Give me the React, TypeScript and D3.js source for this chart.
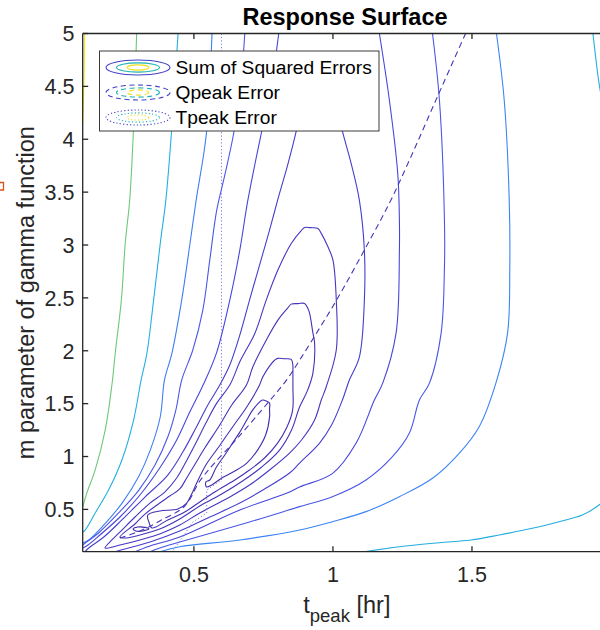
import React from "react";
import * as d3 from "d3";

type Pt = [number, number];

// ---------- axes / ticks ----------
const xDomain: [number, number] = [0.1, 2];
const yDomain: [number, number] = [0.1, 5];
const xTickValues = [0.5, 1, 1.5];
const xTickLabels = ["0.5", "1", "1.5"];
const yTickValues = [0.5, 1, 1.5, 2, 2.5, 3, 3.5, 4, 4.5, 5];
const yTickLabels = ["0.5", "1", "1.5", "2", "2.5", "3", "3.5", "4", "4.5", "5"];
const legendLabels = ["Sum of Squared Errors", "Qpeak Error", "Tpeak Error"];

// ---------- contour lines (t_peak [hr], m) ----------
const yellowEdge: Pt[] = [[0.107, 5.0], [0.105, 4.6], [0.102, 4.3], [0.1, 4.15]];

const greenLeft: Pt[] = [
  [0.294, 5.0], [0.282, 4.057], [0.269, 3.424], [0.253, 3.017], [0.239, 2.479],
  [0.217, 1.978], [0.205, 1.676], [0.181, 1.251], [0.145, 0.873], [0.115, 0.656], [0.1, 0.522],
];

const cyanLeft: Pt[] = [
  [0.443, 5.0], [0.419, 4.057], [0.399, 3.424], [0.379, 3.017], [0.355, 2.479],
  [0.331, 1.978], [0.31, 1.723], [0.283, 1.345], [0.241, 0.967], [0.193, 0.683],
  [0.145, 0.466], [0.109, 0.305], [0.1, 0.286],
];
const cyanTopRight: Pt[] = [[1.935, 5.0], [1.946, 4.75], [1.957, 4.53], [1.985, 4.1]];
const cyanBottomRight: Pt[] = [
  [1.113, 0.1], [1.239, 0.147], [1.383, 0.185], [1.496, 0.211], [1.598, 0.258],
  [1.717, 0.321], [1.813, 0.384], [1.897, 0.447], [1.957, 0.541], [1.996, 0.636],
];

const blueLeft: Pt[] = [
  [0.565, 5.0], [0.545, 4.057], [0.508, 3.424], [0.486, 3.017], [0.456, 2.479],
  [0.421, 1.978], [0.394, 1.723], [0.379, 1.376], [0.343, 1.06], [0.301, 0.808],
  [0.241, 0.557], [0.169, 0.333], [0.122, 0.211], [0.1, 0.183],
];
const blueRight: Pt[] = [
  [1.588, 5.0], [1.616, 4.369], [1.634, 3.424], [1.636, 2.791], [1.628, 2.167],
  [1.586, 1.694], [1.526, 1.282], [1.454, 1.03], [1.358, 0.794], [1.239, 0.62],
  [1.119, 0.479], [0.998, 0.384], [0.88, 0.305], [0.665, 0.211], [0.449, 0.147], [0.377, 0.1],
];

const p1Left: Pt[] = [
  [0.683, 5.0], [0.668, 4.511], [0.643, 4.057], [0.611, 3.66], [0.582, 3.329],
  [0.557, 2.857], [0.532, 2.385], [0.496, 2.007], [0.456, 1.723], [0.435, 1.439],
  [0.406, 1.184], [0.36, 0.92], [0.302, 0.683], [0.229, 0.466], [0.157, 0.277],
  [0.109, 0.182], [0.1, 0.163],
];
const p1Right: Pt[] = [
  [1.358, 5.0], [1.383, 4.369], [1.401, 3.235], [1.401, 2.791], [1.389, 2.167],
  [1.347, 1.694], [1.311, 1.534], [1.275, 1.222], [1.214, 0.998], [1.119, 0.778],
  [0.998, 0.62], [0.88, 0.526], [0.7, 0.381], [0.449, 0.192], [0.377, 0.135], [0.342, 0.1],
];

const p2Left: Pt[] = [
  [0.805, 5.0], [0.776, 4.464], [0.744, 4.076], [0.694, 3.424], [0.665, 2.952],
  [0.629, 2.479], [0.581, 1.978], [0.533, 1.676], [0.485, 1.42], [0.438, 1.156],
  [0.377, 0.891], [0.306, 0.636], [0.234, 0.428], [0.162, 0.258], [0.119, 0.163], [0.1, 0.135],
];
const p2Right: Pt[] = [
  [1.167, 5.0], [1.203, 4.369], [1.233, 3.679], [1.239, 3.235], [1.239, 2.952],
  [1.227, 2.167], [1.179, 1.694], [1.149, 1.534], [1.083, 1.125], [0.999, 0.841],
  [0.88, 0.712], [0.844, 0.664], [0.665, 0.494], [0.449, 0.239], [0.342, 0.154], [0.288, 0.1],
];

const p3Line: Pt[] = [
  [0.108, 0.1], [0.126, 0.144], [0.176, 0.239], [0.241, 0.4], [0.324, 0.617],
  [0.406, 0.825], [0.46, 1.042], [0.507, 1.269], [0.55, 1.487], [0.593, 1.676],
  [0.629, 1.865], [0.665, 2.148], [0.7, 2.479], [0.736, 2.81], [0.772, 3.14],
  [0.801, 3.424], [0.837, 3.755], [0.868, 4.076], [0.88, 4.227], [0.916, 4.369],
  [0.97, 4.417], [1.013, 4.322], [1.034, 4.076], [1.067, 3.755], [1.095, 3.424],
  [1.113, 2.952], [1.113, 2.479], [1.095, 1.94], [1.059, 1.723], [1.034, 1.534],
  [0.995, 1.298], [0.952, 1.127], [0.88, 0.938], [0.844, 0.844], [0.754, 0.693],
  [0.665, 0.56], [0.557, 0.428], [0.449, 0.296], [0.342, 0.192], [0.252, 0.126], [0.216, 0.1],
];

const t1Loop: Pt[] = [
  [0.898, 3.166], [0.92, 3.164], [0.946, 3.157], [0.958, 3.11], [0.982, 2.983], [1.0, 2.857], [1.012, 2.479],
  [1.012, 2.007], [0.976, 1.66], [0.958, 1.534], [0.934, 1.345], [0.887, 1.156],
  [0.844, 1.033], [0.772, 0.873], [0.7, 0.73], [0.629, 0.617], [0.521, 0.466],
  [0.449, 0.352], [0.377, 0.267], [0.306, 0.211], [0.234, 0.163], [0.18, 0.135],
  [0.205, 0.211], [0.241, 0.305], [0.288, 0.428], [0.342, 0.56], [0.395, 0.664],
  [0.438, 0.797], [0.471, 0.948], [0.507, 1.127], [0.543, 1.316], [0.582, 1.505],
  [0.629, 1.676], [0.668, 1.912], [0.719, 2.164], [0.76, 2.479], [0.802, 2.763], [0.85, 3.015],
  [0.886, 3.137],
];

const t2Loop: Pt[] = [
  [0.85, 2.441], [0.875, 2.446], [0.898, 2.448], [0.91, 2.4], [0.916, 2.356], [0.928, 2.167], [0.934, 2.073],
  [0.928, 1.789], [0.909, 1.628], [0.88, 1.468], [0.851, 1.251], [0.808, 1.061],
  [0.744, 0.901], [0.675, 0.768], [0.6, 0.645], [0.521, 0.532], [0.449, 0.409],
  [0.377, 0.314], [0.306, 0.258], [0.252, 0.229], [0.234, 0.239], [0.288, 0.362],
  [0.324, 0.456], [0.377, 0.56], [0.413, 0.626], [0.449, 0.693], [0.474, 0.797],
  [0.5, 0.91], [0.539, 1.08], [0.593, 1.298], [0.636, 1.487], [0.689, 1.676],
  [0.712, 1.849], [0.76, 2.1], [0.802, 2.29], [0.837, 2.403],
];

const t3Loop: Pt[] = [
  [0.334, 0.447], [0.377, 0.485], [0.442, 0.504], [0.474, 0.56], [0.492, 0.645],
  [0.51, 0.749], [0.543, 0.92], [0.589, 1.09], [0.639, 1.279], [0.69, 1.468],
  [0.736, 1.676], [0.747, 1.75], [0.772, 1.855], [0.79, 1.91], [0.801, 1.928], [0.825, 1.925],
  [0.85, 1.918], [0.856, 1.86], [0.856, 1.817], [0.856, 1.66], [0.855, 1.439], [0.833, 1.269], [0.801, 1.127],
  [0.754, 0.986], [0.7, 0.873], [0.647, 0.778], [0.575, 0.664], [0.521, 0.57],
  [0.467, 0.475], [0.406, 0.4], [0.349, 0.324], [0.338, 0.381],
];

const innerLoop: Pt[] = [
  [0.545, 0.712], [0.543, 0.76], [0.557, 0.778], [0.581, 0.901], [0.611, 1.014], [0.639, 1.127],
  [0.665, 1.231], [0.69, 1.345], [0.711, 1.439], [0.747, 1.534], [0.76, 1.525], [0.772, 1.505],
  [0.772, 1.45], [0.772, 1.373], [0.758, 1.203], [0.729, 1.061], [0.69, 0.938], [0.647, 0.863],
  [0.6, 0.797], [0.564, 0.73],
];

const lensLoop: Pt[] = [
  [0.281, 0.314], [0.298, 0.333], [0.324, 0.33], [0.338, 0.316], [0.316, 0.296], [0.291, 0.296],
];

const qpeakZero: Pt[] = [
  [0.234, 0.229], [0.306, 0.296], [0.377, 0.39], [0.467, 0.532], [0.521, 0.768],
  [0.568, 0.92], [0.657, 1.175], [0.765, 1.505], [0.833, 1.723], [0.887, 1.94],
  [0.952, 2.214], [1.013, 2.479], [1.113, 2.952], [1.203, 3.396], [1.275, 3.802],
  [1.375, 4.398], [1.477, 5.0],
];

const tpeakZero: Pt[] = [
  [0.599, 5.0], [0.599, 0.778], [0.546, 0.683], [0.546, 0.466], [0.496, 0.381],
  [0.46, 0.239], [0.421, 0.1],
];

// ---------- styling ----------
const openLines = [
  { pts: yellowEdge, color: "#f2e81c" },
  { pts: greenLeft, color: "#6bc97a" },
  { pts: cyanLeft, color: "#22b0e2" },
  { pts: cyanTopRight, color: "#22b0e2" },
  { pts: cyanBottomRight, color: "#22ade0" },
  { pts: blueLeft, color: "#3c7ff4" },
  { pts: blueRight, color: "#3c84f3" },
  { pts: p1Left, color: "#4a56e8" },
  { pts: p1Right, color: "#4a56e8" },
  { pts: p2Left, color: "#4746dc" },
  { pts: p2Right, color: "#4746dc" },
  { pts: p3Line, color: "#463ecc" },
];
const closedLines = [
  { pts: t1Loop, color: "#4537c2" },
  { pts: t2Loop, color: "#4433ba" },
  { pts: t3Loop, color: "#4230b4" },
  { pts: innerLoop, color: "#412cae" },
  { pts: lensLoop, color: "#3e27a8" },
];

const M = { left: 82.7, right: 611, top: 33.5, bottom: 551.7 };
const FONT = "'Liberation Sans', Arial, Helvetica, sans-serif";
const AX = "#262626";

export default function App() {
  const x = d3.scaleLinear().domain(xDomain).range([M.left, M.right]);
  const y = d3.scaleLinear().domain(yDomain).range([M.bottom, M.top]);
  const smooth = d3.line<Pt>().x((d) => x(d[0])).y((d) => y(d[1])).curve(d3.curveCatmullRom.alpha(0.5));
  const smoothClosed = d3.line<Pt>().x((d) => x(d[0])).y((d) => y(d[1])).curve(d3.curveCatmullRomClosed.alpha(0.5));
  const straight = d3.line<Pt>().x((d) => x(d[0])).y((d) => y(d[1]));

  const cx = (M.left + M.right) / 2;
  const cy = (M.top + M.bottom) / 2;
  const tick = 5.5;

  const legendRows = legendLabels.map((label, i) => ({ label, i, yc: 67.5 + i * 25 }));
  const dashFor = (i: number) => (i === 0 ? undefined : i === 1 ? "5,3.5" : "1.2,2.2");
  const iconColors = ["#4141c4", "#20b2b2", "#f0e020"];
  const iconR: [number, number][] = [[32, 7.5], [21.5, 4.6], [10.8, 2.6]];

  return (
    <svg width={600} height={630} style={{ position: "absolute", left: 0, top: 0, background: "#fff" }} fontFamily={FONT}>
      <defs>
        <clipPath id="plotClip">
          <rect x={M.left} y={M.top} width={M.right - M.left} height={M.bottom - M.top} />
        </clipPath>
      </defs>
      <rect x={0} y={0} width={600} height={630} fill="#fff" />

      <g clipPath="url(#plotClip)" fill="none">
        {openLines.map((l, k) => (
          <path key={"o" + k} d={smooth(l.pts) || ""} stroke={l.color} strokeWidth={1.1} />
        ))}
        {closedLines.map((l, k) => (
          <path key={"c" + k} d={smoothClosed(l.pts) || ""} stroke={l.color} strokeWidth={1.1} />
        ))}
        <path d={smooth(qpeakZero) || ""} stroke="#4336b8" strokeWidth={1.1} strokeDasharray="6,4" />
        <path d={straight(tpeakZero) || ""} stroke="#7d74dc" strokeWidth={1} strokeDasharray="1.2,2.2" />
      </g>

      {/* axes */}
      <g stroke={AX} strokeWidth={1.3} fill="none">
        <line x1={M.left} y1={M.top} x2={M.left} y2={M.bottom} />
        <line x1={M.left} y1={M.bottom} x2={M.right} y2={M.bottom} />
        <line x1={M.left} y1={M.top} x2={M.right} y2={M.top} />
        <line x1={M.right} y1={M.top} x2={M.right} y2={M.bottom} />
        {xTickValues.map((v) => (
          <g key={"xt" + v}>
            <line x1={x(v)} x2={x(v)} y1={M.bottom} y2={M.bottom - tick} />
            <line x1={x(v)} x2={x(v)} y1={M.top} y2={M.top + tick} />
          </g>
        ))}
        {yTickValues.map((v) => (
          <line key={"yt" + v} x1={M.left} x2={M.left + tick} y1={y(v)} y2={y(v)} />
        ))}
      </g>
      <g fill={AX} fontSize={21.5}>
        {xTickValues.map((v, i) => (
          <text key={"xl" + v} x={x(v)} y={582} textAnchor="middle">{xTickLabels[i]}</text>
        ))}
        {yTickValues.map((v, i) => (
          <text key={"yl" + v} x={74.5} y={y(v)} dy="0.36em" textAnchor="end">{yTickLabels[i]}</text>
        ))}
      </g>

      {/* legend */}
      <g>
        <rect x={99.5} y={51} width={279.5} height={80} fill="#fff" stroke="#3a3a3a" strokeWidth={1} />
        {legendRows.map((r) => (
          <g key={"lg" + r.i}>
            {iconR.map((rr, j) => (
              <ellipse key={j} cx={138} cy={r.yc} rx={rr[0]} ry={rr[1]} fill="none"
                stroke={iconColors[j]} strokeWidth={1.1} strokeDasharray={dashFor(r.i)} />
            ))}
            <text x={175.5} y={r.yc + 6.7} fontSize={19.2} fill="#000">{r.label}</text>
          </g>
        ))}
      </g>

      {/* title and labels */}
      <text x={345} y={25} textAnchor="middle" fontSize={23.5} fontWeight="bold" fill="#000">Response Surface</text>
      <text transform={`translate(33.5,${cy}) rotate(-90)`} textAnchor="middle" fontSize={23.5} fill={AX}>
        m parameter of gamma function
      </text>
      <text x={cx} y={613} textAnchor="middle" fontSize={23.5} fill={AX} style={{ whiteSpace: "pre" }}>
        <tspan>t</tspan>
        <tspan dy={9} fontSize={18.5}>peak</tspan>
        <tspan dy={-9}> [hr]</tspan>
      </text>

      {/* clipped neighbouring label fragment */}
      <path d="M0,182.5 H3.5 V190 H0" fill="none" stroke="#d95319" strokeWidth={1.3} />
    </svg>
  );
}
